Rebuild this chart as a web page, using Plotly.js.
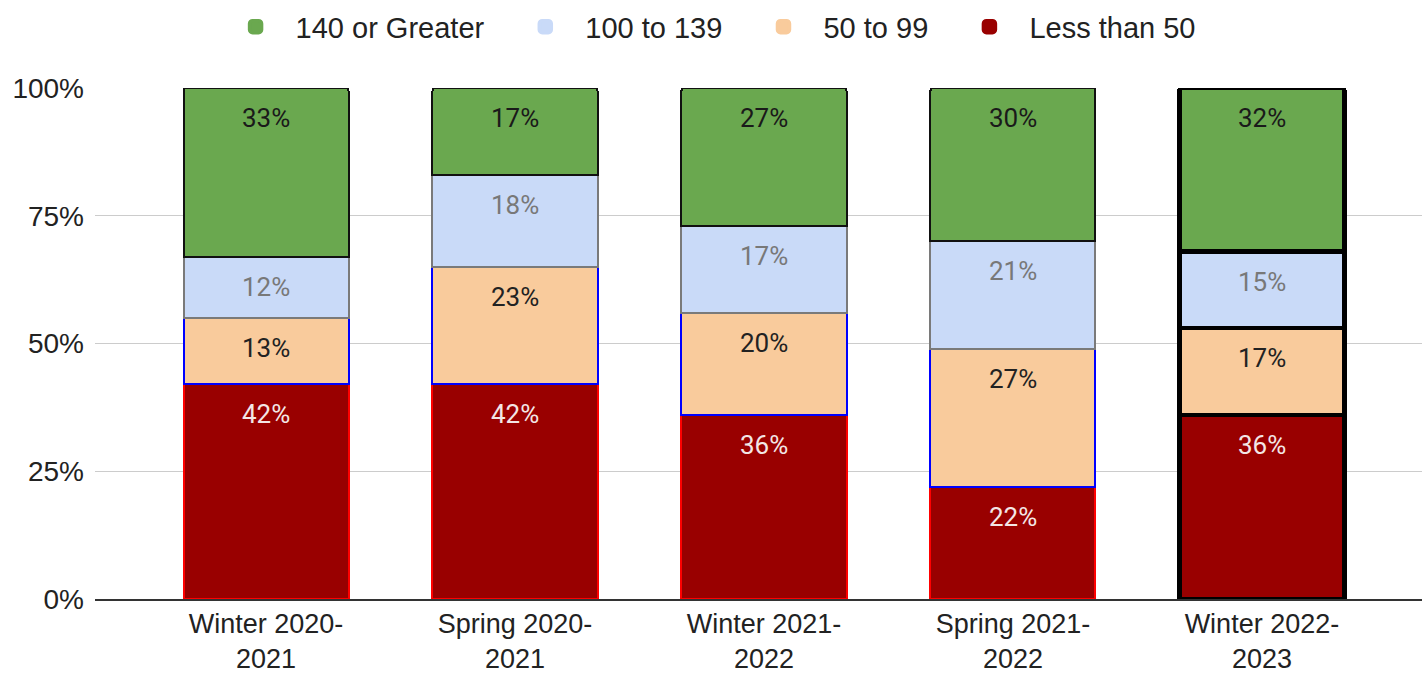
<!DOCTYPE html>
<html>
<head>
<meta charset="utf-8">
<script src="https://cdn.plot.ly/plotly-3.0.1.min.js"></script>
<style>html,body{margin:0;padding:0;background:#fff;}#chart{width:1422px;height:673px;}</style>
</head>
<body>
<div id="chart"></div>
<script>
const categories = ["Winter 2020-<br>2021", "Spring 2020-<br>2021", "Winter 2021-<br>2022", "Spring 2021-<br>2022", "Winter 2022-<br>2023"];
const lessThan50 = [42, 42, 36, 22, 36];
const from50to99 = [13, 23, 20, 27, 17];
const from100to139 = [12, 18, 17, 21, 15];
const over140 = [33, 17, 27, 30, 32];
const seriesNames = ["Less than 50", "50 to 99", "100 to 139", "140 or Greater"];
const yTicks = [0, 25, 50, 75, 100];

const series = [lessThan50, from50to99, from100to139, over140];
const fills = ["#990000", "#f9cb9c", "#c9daf8", "#6aa84f"];
const edges = ["#ff0000", "#0000ff", "#7a7a7a", "#111111"];
const labelColors = ["#f3e6e6", "#222222", "#787878", "#1a1a1a"];
const lastIdx = categories.length - 1;
const pad = "\u00a0\u00a0";

const traces = series.map((vals, s) => ({
  type: "bar",
  name: seriesNames[s],
  x: categories,
  y: vals,
  showlegend: false,
  marker: {
    color: fills[s],
    line: {
      color: vals.map((v, i) => i === lastIdx ? "#000000" : edges[s]),
      width: vals.map((v, i) => i === lastIdx ? 4.5 : 2)
    }
  },
  hoverinfo: "none"
}));

// legend entries (no marks of their own)
series.forEach((vals, s) => {
  traces.push({
    type: "bar",
    name: seriesNames[s] + (s === 0 ? "" : pad),
    x: categories,
    y: vals.map(() => null),
    showlegend: true,
    marker: {color: fills[s], line: {color: fills[s], width: 3.5}},
    hoverinfo: "none"
  });
});

const annotations = [];
const cum = categories.map(() => 0);
series.forEach((vals, s) => {
  vals.forEach((v, i) => {
    cum[i] += v;
    annotations.push({
      x: categories[i], y: cum[i], xref: "x", yref: "y",
      text: v + "%", showarrow: false, yanchor: "middle", yshift: -30,
      font: {family: "Roboto, Liberation Sans, sans-serif", size: 26, color: labelColors[s]}
    });
  });
});

const layout = {
  width: 1422, height: 673,
  margin: {l: 95, r: 0, t: 88, b: 74},
  paper_bgcolor: "#ffffff", plot_bgcolor: "#ffffff",
  barmode: "stack",
  bargap: 0.337,
  barcornerradius: 3,
  font: {family: "Liberation Sans, Arial, sans-serif", size: 28, color: "#222222"},
  showlegend: true,
  legend: {
    orientation: "h", xref: "paper", x: 0.462, xanchor: "center",
    yref: "container", y: 0.998, yanchor: "top",
    traceorder: "reversed", font: {size: 29, color: "#222222"},
    itemwidth: 70, itemclick: false
  },
  xaxis: {
    type: "category",
    range: [-0.687, 4.643],
    showline: true, linecolor: "#333333", linewidth: 1.5,
    showgrid: false, ticks: "", ticklabelstandoff: 0,
    tickfont: {size: 27, color: "#222222"},
    fixedrange: true, automargin: false
  },
  yaxis: {
    range: [0, 100],
    tickvals: yTicks, ticktext: yTicks.map(t => t + "%"),
    showgrid: true, gridcolor: "#cccccc", gridwidth: 1.2,
    zeroline: false, showline: false, ticks: "",
    ticklabelstandoff: 10,
    tickfont: {size: 28, color: "#222222"},
    fixedrange: true, automargin: false
  },
  annotations: annotations
};

Plotly.newPlot("chart", traces, layout, {displayModeBar: false, staticPlot: true});
</script>
</body>
</html>
